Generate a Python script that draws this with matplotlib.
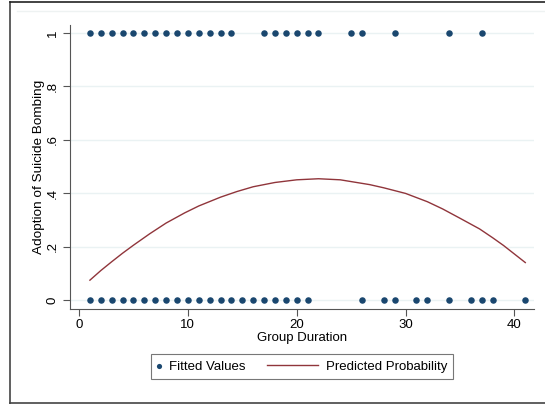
import matplotlib
matplotlib.use("Agg")
import matplotlib.pyplot as plt
from matplotlib.lines import Line2D
from matplotlib.legend_handler import HandlerPathCollection

plt.rcParams['font.family'] = ['Liberation Sans', 'DejaVu Sans']

# Observed outcomes (Group Duration, Adoption)
x_ones = [1, 2, 3, 4, 5, 6, 7, 8, 9, 10, 11, 12, 13, 14,
          17, 18, 19, 20, 21, 22, 25, 26, 29, 34, 37]
x_zeros = [1, 2, 3, 4, 5, 6, 7, 8, 9, 10, 11, 12, 13, 14, 15, 16, 17, 18, 19, 20, 21,
           26, 28, 29, 31, 32, 34, 36, 37, 38, 41]

# Predicted probability curve
curve_x = [1, 2, 3, 4, 5, 6.5, 8, 9.7, 11, 13, 14.5, 16, 18, 20, 22, 24,
           26.7, 28, 30, 32, 33.4, 35, 36.8, 38, 39, 40, 41]
curve_y = [0.074, 0.11, 0.143, 0.175, 0.205, 0.248, 0.288, 0.326, 0.352, 0.385, 0.406,
           0.424, 0.44, 0.45, 0.454, 0.45, 0.432, 0.42, 0.399, 0.368, 0.341, 0.306,
           0.266, 0.233, 0.204, 0.172, 0.140]

xticks = [0, 10, 20, 30, 40]
yticks = [0, 0.2, 0.4, 0.6, 0.8, 1.0]
yticklabels = ['0', '.2', '.4', '.6', '.8', '1']

W, H = 545, 404
fig = plt.figure(figsize=(W / 100, H / 100), dpi=100)
ax = fig.add_axes([70 / W, 1 - 309 / H, (534 - 70) / W, (309 - 25) / H])

navy = '#1a476f'
maroon = '#90353b'

for yv in yticks:
    ax.axhline(yv, color='#eaf2f3', lw=1.0, zorder=0)

ax.scatter(x_ones, [1] * len(x_ones), s=22, color=navy, zorder=3, linewidths=0)
ax.scatter(x_zeros, [0] * len(x_zeros), s=22, color=navy, zorder=3, linewidths=0,
           label='Fitted Values')
ax.plot(curve_x, curve_y, color=maroon, lw=1.0, zorder=2, label='Predicted Probability')

ax.set_xlim(-0.83, 41.8)
ax.set_ylim(-0.034, 1.03)
ax.set_xticks(xticks)
ax.set_yticks(yticks)
ax.set_yticklabels(yticklabels, rotation=90, va='center')
ax.tick_params(axis='both', direction='out', length=5, width=0.8, color='#555555',
               labelsize=9.5, pad=3)
ax.tick_params(axis='x', pad=2)
for s in ['top', 'right']:
    ax.spines[s].set_visible(False)
for s in ['left', 'bottom']:
    ax.spines[s].set_color('#555555')
    ax.spines[s].set_linewidth(0.8)

ax.set_xlabel('Group Duration', fontsize=9.5, labelpad=1)
ax.set_ylabel('Adoption of Suicide Bombing', fontsize=9.7, labelpad=1.5)


class ShortHandle(HandlerPathCollection):
    def legend_artist(self, legend, orig_handle, fontsize, handlebox):
        handlebox.width = 3
        return super().legend_artist(legend, orig_handle, fontsize, handlebox)


handles, labels = ax.get_legend_handles_labels()
leg = ax.legend(handles, labels, loc='center',
                bbox_to_anchor=((148 + 456) / 2 / W, 1 - 366.5 / H),
                bbox_transform=fig.transFigure, ncol=2, fontsize=9.5,
                frameon=True, fancybox=False, edgecolor='#555555',
                handlelength=3.8, columnspacing=1.65, handletextpad=0.65,
                borderpad=0.45, scatterpoints=1,
                handler_map={handles[0]: ShortHandle(sizes=[14])})
leg.get_frame().set_linewidth(0.8)

# outer frame
fig.add_artist(Line2D([9.5 / W, 9.5 / W], [0.5 / H, 1 - 2 / H], transform=fig.transFigure,
                      color='#444444', lw=1.2))
fig.add_artist(Line2D([9.5 / W, 1.0], [1 - 2 / H, 1 - 2 / H], transform=fig.transFigure,
                      color='#222222', lw=1.2))
fig.add_artist(Line2D([9.5 / W, 1.0], [1 / H, 1 / H], transform=fig.transFigure,
                      color='#444444', lw=1.2))
fig.add_artist(Line2D([17 / W, 1.0], [1 - 11 / H, 1 - 11 / H], transform=fig.transFigure,
                      color='#eef2f2', lw=1.0))

fig.savefig('out.png', dpi=100)
